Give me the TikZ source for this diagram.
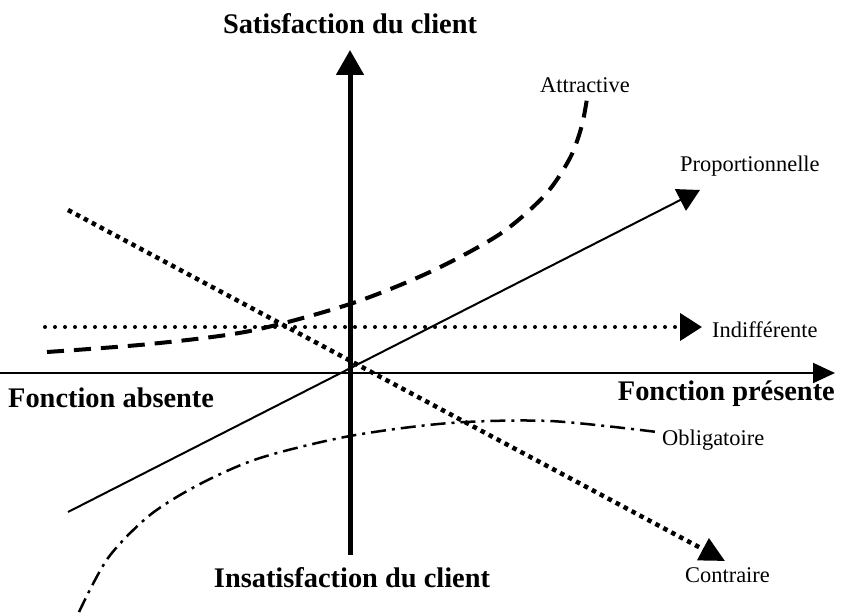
\documentclass[tikz,border=0pt]{standalone}
\usepackage{fontspec}
\setmainfont{Liberation Serif}
\usetikzlibrary{arrows.meta}
\tikzset{
  haxis/.style={line width=2bp, -{Triangle[length=22bp, width=20bp]}},
  vaxis/.style={line width=5bp, -{Triangle[length=25bp, width=27bp]}},
  propline/.style={line width=2bp, -{Triangle[length=22bp, width=24bp]}},
  indline/.style={line width=4bp, line cap=round, dash pattern=on 0bp off 10bp,
    -{Triangle[length=22bp, width=27bp, line cap=butt]}},
  attrline/.style={line width=4bp, dash pattern=on 17bp off 10bp},
  contline/.style={line width=4.5bp, dash pattern=on 4.5bp off 4.5bp,
    -{Triangle[length=25bp, width=24bp]}},
  obligline/.style={line width=2.5bp, dash pattern=on 15bp off 6bp on 3bp off 6bp},
  biglabel/.style={font=\fontsize{28.5}{30}\bfseries\selectfont, inner sep=0pt},
  smalllabel/.style={font=\fontsize{22.5}{24}\selectfont, inner sep=0pt, anchor=base west}
}
\begin{document}
\begin{tikzpicture}[x=1bp, y=-1bp]
  \useasboundingbox (0,0) rectangle (841,614);

  % Axes
  \coordinate (xmin) at (0,373);
  \coordinate (xmax) at (835,373);
  \coordinate (ymin) at (350,555);
  \coordinate (ymax) at (350,50);
  \draw[haxis] (xmin) -- (xmax);

  % Axis labels
  \node[biglabel, anchor=base] (satis) at (350,34) {Satisfaction du client};
  \node[biglabel, anchor=base] (insatis) at (352,587) {Insatisfaction du client};
  \node[biglabel, anchor=base west] (absente) at (8,407) {Fonction absente};
  \node[biglabel, anchor=base east] (presente) at (835,400) {Fonction présente};

  % Indifferente
  \coordinate (ind0) at (45,327);
  \coordinate (ind1) at (702,327);
  \draw[indline] (ind0) -- (ind1);
  \node[smalllabel] (indlbl) at (712,337) {Indifférente};

  % Attractive
  \coordinate (attr0) at (47,352);
  \coordinate (attr1) at (588,92);
  \draw[attrline] plot[smooth] coordinates {(attr0) (150,344) (250,331)
    (350,304) (430,272) (500,234) (545,195) (570,158) (582,125) (attr1)};
  \node[smalllabel] (attrlbl) at (540,93) {Attractive};

  % Proportionnelle
  \coordinate (prop0) at (68,512);
  \coordinate (prop1) at (700,190);
  \draw[propline] (prop0) -- (prop1);
  \node[smalllabel] (proplbl) at (680,172) {Proportionnelle};

  % Contraire
  \coordinate (cont0) at (68,210);
  \coordinate (cont1) at (725,561);
  \draw[contline] (cont0) -- (cont1);
  \node[smalllabel] (contlbl) at (685,582) {Contraire};

  % Obligatoire
  \coordinate (obl0) at (79,612);
  \coordinate (obl1) at (657,432);
  \draw[obligline] plot[smooth] coordinates {(obl0) (108,558) (150,515)
    (200,484) (260,458) (350,436) (450,423) (550,421) (obl1)};
  \node[smalllabel] (obllbl) at (662,445) {Obligatoire};

  % Vertical axis on top
  \draw[vaxis] (ymin) -- (ymax);
\end{tikzpicture}
\end{document}
